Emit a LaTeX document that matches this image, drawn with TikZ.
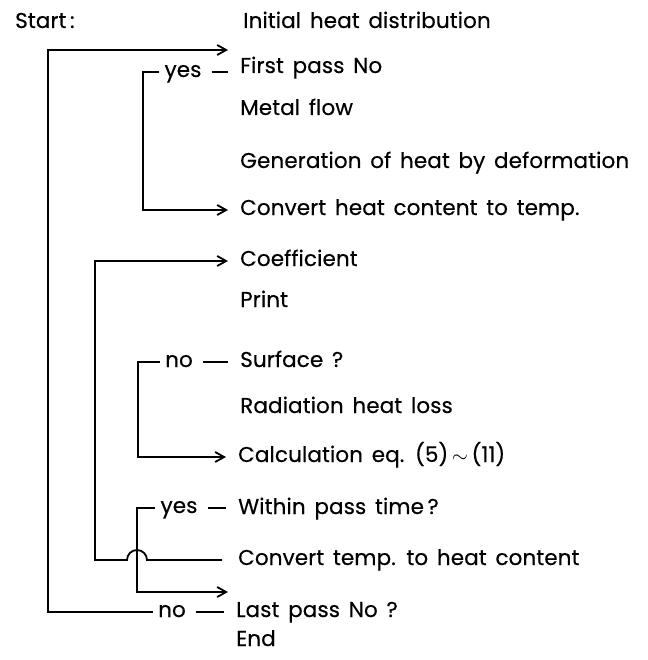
\documentclass[tikz,border=0pt]{standalone}
\usepackage{fontspec}
\setmainfont{Poppins}[LetterSpace=0.5,WordSpace=1.5,FakeBold=0.4]
\usetikzlibrary{arrows.meta}
\tikzset{txt/.style={anchor=west,inner xsep=12pt,inner ysep=0pt,text height=15pt,text depth=5pt,font=\fontsize{21.5}{25}\selectfont},lbl/.style={inner xsep=5pt,inner ysep=0pt,text height=15pt,text depth=5pt,font=\fontsize{21.5}{25}\selectfont},line/.style={line width=1.8pt},flow/.style={line width=1.8pt,-{Straight Barb[length=9pt,width=10pt]}}}

\begin{document}
\begin{tikzpicture}[x=1pt,y=-1pt]
\useasboundingbox (0,0) rectangle (647,660);
% steps
\node[txt,inner xsep=0pt] (start) at (15,23) {Start\,:};
\node[txt] (init) at (231,23) {Initial heat distribution};
\node[txt] (first) at (228,68) {First pass No};
\node[txt] (metal) at (228,110) {Metal flow};
\node[txt] (gen) at (228,163) {Generation of heat by deformation};
\node[txt] (conv1) at (228,210) {Convert heat content to temp.};
\node[txt] (coef) at (228,261) {Coefficient};
\node[txt] (print) at (228,302) {Print};
\node[txt] (surf) at (228,362) {Surface ?};
\node[txt] (rad) at (228,408) {Radiation heat loss};
\node[txt] (calc) at (226,457) {Calculation eq. (5)\,$\sim$\,(11)};
\node[txt] (within) at (226,509) {Within pass time\,?};
\node[txt] (conv2) at (226,560) {Convert temp. to heat content};
\node[txt] (last) at (224,612) {Last pass No ?};
\node[txt] (end) at (224,641) {End};
% branch labels
\node[lbl] (yes1) at (183,72) {yes};
\node[lbl] (no1) at (179,362) {no};
\node[lbl] (yes2) at (179,508) {yes};
\node[lbl] (no2) at (172,612) {no};
% rails and re-entry points
\coordinate (reentry) at (228,50);
\coordinate (exitB) at (228,592);
\coordinate (railA) at (48,300);
\coordinate (railB) at (95,400);
\coordinate (railC) at (143,140);
\coordinate (railD) at (138,400);
\coordinate (railE) at (137,550);
% dashes
\draw[line,shorten <=5pt] (yes1.east) -- (yes1.east -| first.west);
\draw[line,shorten <=5pt] (no1.east) -- (surf.west);
\draw[line,shorten <=5pt] (yes2.east) -- (yes2.east -| within.west);
\draw[line,shorten <=5pt] (no2.east) -- (last.west);
% loops
\draw[flow] (no2.west) -| (railA) |- (reentry);
\draw[flow] (yes1.west) -| (railC) |- (conv1.west);
\draw[flow] (no1.west) -| (railD) |- (calc.west);
\draw[flow] (yes2.west) -| (railE) |- (exitB);
\draw[flow,shorten <=4pt] (conv2.west) -- (147,560) arc[start angle=0,end angle=180,radius=10pt] -| (railB) |- (coef.west);
\end{tikzpicture}
\end{document}
